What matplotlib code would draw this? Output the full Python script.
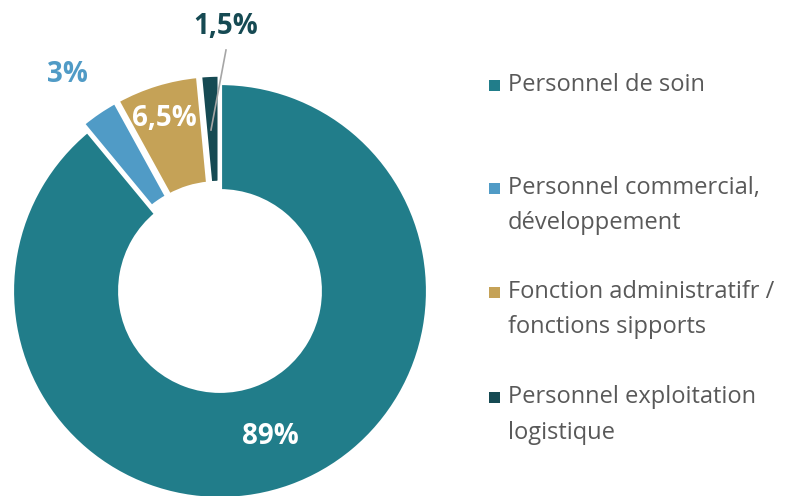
import matplotlib.pyplot as plt
from matplotlib.patches import Rectangle

plt.rcParams['font.family'] = ['Open Sans', 'DejaVu Sans']

# données
categories = ["Personnel de soin",
              "Personnel commercial,\ndéveloppement",
              "Fonction administratifr /\nfonctions sipports",
              "Personnel exploitation\nlogistique"]
values = [89, 3, 6.5, 1.5]
labels = ["89%", "3%", "6,5%", "1,5%"]
colors = ["#217D8A", "#509BC6", "#C5A257", "#164A53"]
explode = [0, 0.04, 0.04, 0.04]

W, H = 789, 496
fig = plt.figure(figsize=(W / 100, H / 100), dpi=100)

# axe carré centré sur le donut (centre ~ (220, 290) px, rayon ~208 px)
R = 208.0
cx, cy = 220, H - 291
half = 230
ax = fig.add_axes([(cx - half) / W, (cy - half) / H, 2 * half / W, 2 * half / H])
ax.pie(values, colors=colors, startangle=90, counterclock=False, explode=explode,
       radius=1, wedgeprops=dict(width=0.52, edgecolor="white", linewidth=3))
ax.set_xlim(-half / R, half / R)
ax.set_ylim(-half / R, half / R)
ax.set_aspect("equal")
ax.axis("off")


def px(x, y):
    """pixels image -> coordonnées données"""
    return (x - cx) / R, ((H - y) - cy) / R


# étiquettes
lab_fs = 20
ax.text(*px(270, 437), labels[0], color="white", fontsize=lab_fs, fontweight="bold",
        ha="center", va="center")
ax.text(*px(67, 75), labels[1], color=colors[1], fontsize=lab_fs, fontweight="bold",
        ha="center", va="center", clip_on=False)
ax.text(*px(164, 118), labels[2], color="white", fontsize=lab_fs, fontweight="bold",
        ha="center", va="center")
ax.text(*px(226, 27), labels[3], color=colors[3], fontsize=lab_fs, fontweight="bold",
        ha="center", va="center", clip_on=False)
x0, y0 = px(226, 50)
x1, y1 = px(211, 130)
ax.plot([x0, x1], [y0, y1], color="#A6A6A6", lw=1.2, clip_on=False)

# légende
line_y = [[85], [188, 223], [292, 327], [397, 433]]
for col, cat, ys in zip(colors, categories, line_y):
    fig.patches.append(Rectangle((489 / W, (H - ys[0] - 6) / H), 11 / W, 11 / H,
                                 transform=fig.transFigure, facecolor=col,
                                 edgecolor="none"))
    for txt, y in zip(cat.split("\n"), ys):
        fig.text(508 / W, (H - y) / H, txt, color="#595959", fontsize=17,
                 ha="left", va="center")

fig.savefig("out.png", dpi=100)
